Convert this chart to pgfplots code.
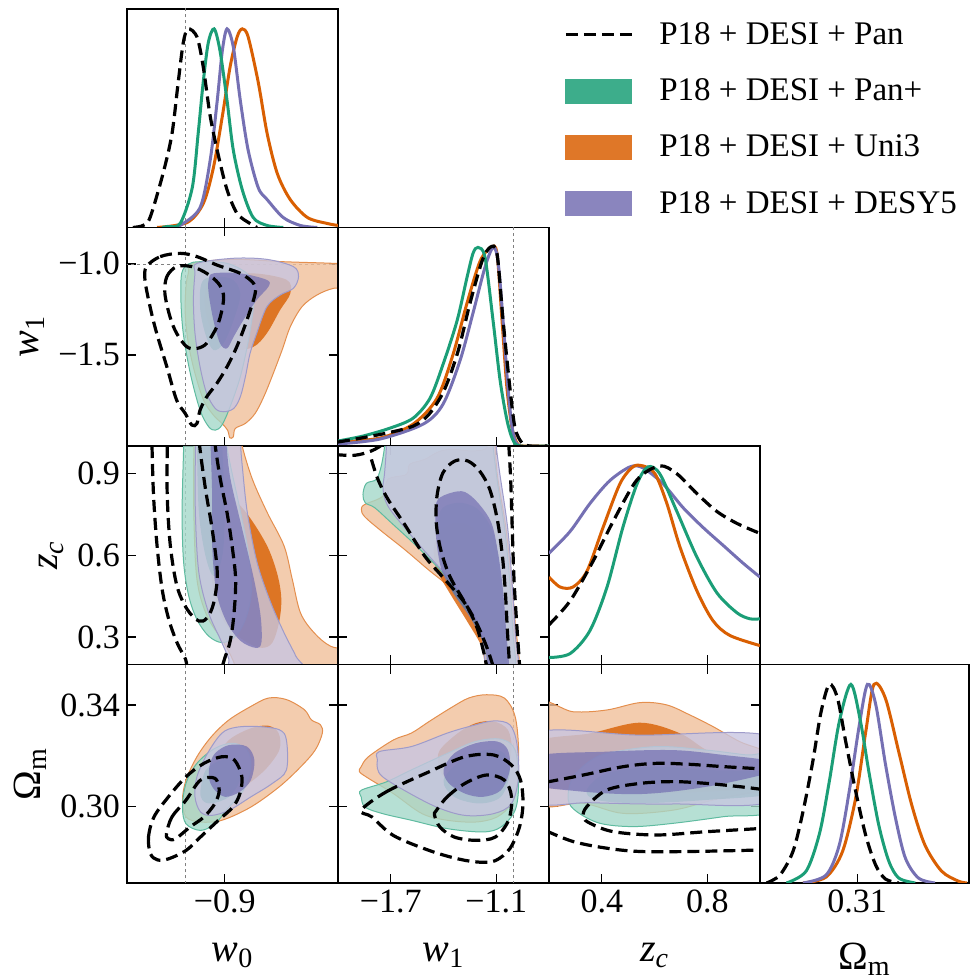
\documentclass[border=0pt]{standalone}
\usepackage{pgfplots}
\pgfplotsset{compat=1.18}
\usepackage{fontspec}
\setmainfont{Liberation Serif}
\definecolor{cg}{HTML}{1B9E77}
\definecolor{co}{HTML}{D95F02}
\definecolor{cp}{HTML}{7570B3}
\pgfplotsset{
  tri/.style={scale only axis, width=105.5pt, height=109.25pt, anchor=south west,
    axis line style={line width=0.9pt}, every tick/.style={black, line width=0.7pt},
    major tick length=4.5pt, tick align=inside, xtick pos=both, ytick pos=both,
    ticklabel style={font=\fontsize{17}{17}\selectfont},
    label style={font=\fontsize{20}{20}\selectfont},
    xlabel style={yshift=-8pt},
    xticklabels={}, yticklabels={}, clip=true},
  diag/.style={tri, ytick=\empty, xtick pos=bottom, ymin=0, ymax=1.1},
  oO/.style={fill=co!40!white, draw=co!70!white, fill opacity=0.8, line width=0.5pt, smooth cycle, tension=0.55},
  oI/.style={fill=co, draw=none, fill opacity=0.8, smooth cycle, tension=0.55},
  gO/.style={fill=cg!40!white, draw=cg!70!white, fill opacity=0.8, line width=0.5pt, smooth cycle, tension=0.55},
  gI/.style={fill=cg, draw=none, fill opacity=0.7, smooth cycle, tension=0.55},
  pO/.style={fill=cp!40!white, draw=cp!70!white, fill opacity=0.8, line width=0.5pt, smooth cycle, tension=0.55},
  pI/.style={fill=cp, draw=none, fill opacity=0.72, smooth cycle, tension=0.55},
  bk/.style={black, line width=1.6pt, dash pattern=on 6pt off 3pt, smooth, tension=0.55},
  bkc/.style={black, line width=1.6pt, dash pattern=on 6pt off 3pt, smooth cycle, tension=0.55},
  lg/.style={cg, line width=1.5pt, smooth, tension=0.5},
  lo/.style={co, line width=1.5pt, smooth, tension=0.5},
  lp/.style={cp, line width=1.5pt, smooth, tension=0.5},
  lb/.style={black, line width=1.6pt, dash pattern=on 6pt off 3pt, smooth, tension=0.5},
  rl/.style={gray, line width=0.35pt, dash pattern=on 1.5pt off 1.5pt},
}
\begin{document}
\begin{tikzpicture}
\path[use as bounding box] (0,0) rectangle (484.5pt,489.5pt);

% ---------- (1,1) w0 1D ----------
\begin{axis}[diag, at={(63.5pt,375.75pt)}, xmin=-1.15, xmax=-0.61, xtick={-0.9},
  legend style={at={(2.07,0.96)}, anchor=north west, draw=none, fill=none,
    font=\fontsize{16.5}{18}\selectfont, row sep=11.7pt, inner sep=0pt,
    /tikz/every odd column/.append style={column sep=11pt}},
  legend cell align=left]
\addlegendimage{legend image code/.code={\draw[black,line width=1.6pt,dash pattern=on 6pt off 3pt] (0pt,0pt) -- (33pt,0pt);}}
\addlegendentry{P18 + DESI + Pan}
\addlegendimage{legend image code/.code={\fill[cg!85!white] (0pt,-6pt) rectangle (33pt,6pt);}}
\addlegendentry{P18 + DESI + Pan+}
\addlegendimage{legend image code/.code={\fill[co!85!white] (0pt,-6pt) rectangle (33pt,6pt);}}
\addlegendentry{P18 + DESI + Uni3}
\addlegendimage{legend image code/.code={\fill[cp!85!white] (0pt,-6pt) rectangle (33pt,6pt);}}
\addlegendentry{P18 + DESI + DESY5}
\addplot[rl] coordinates {(-1,0) (-1,1.2)};
\addplot[lo] coordinates {(-1.073,0) (-0.996,0.025) (-0.955,0.12) (-0.929,0.3) (-0.906,0.56) (-0.886,0.81) (-0.868,0.96) (-0.855,1.0) (-0.840,0.96) (-0.814,0.73) (-0.791,0.47) (-0.765,0.27) (-0.732,0.14) (-0.688,0.05) (-0.637,0.02) (-0.609,0.01)};
\addplot[lp] coordinates {(-1.03,0) (-1.014,0.01) (-0.963,0.1) (-0.937,0.34) (-0.919,0.64) (-0.906,0.89) (-0.894,1.0) (-0.878,0.91) (-0.860,0.64) (-0.840,0.39) (-0.814,0.2) (-0.791,0.14) (-0.750,0.05) (-0.706,0.01) (-0.663,0)};
\addplot[lg] coordinates {(-1.06,0) (-1.047,0.005) (-1.014,0.02) (-0.983,0.2) (-0.968,0.47) (-0.955,0.73) (-0.942,0.93) (-0.927,1.0) (-0.912,0.89) (-0.894,0.64) (-0.878,0.39) (-0.855,0.19) (-0.827,0.05) (-0.791,0.01) (-0.75,0)};
\addplot[lb] coordinates {(-1.135,0) (-1.109,0.01) (-1.091,0.05) (-1.058,0.27) (-1.035,0.47) (-1.019,0.73) (-1.006,0.93) (-0.994,1.0) (-0.971,0.96) (-0.955,0.81) (-0.937,0.56) (-0.917,0.37) (-0.894,0.19) (-0.868,0.07) (-0.835,0.02) (-0.817,0)};
\end{axis}

% ---------- (2,1) w0-w1 ----------
\begin{axis}[tri, at={(63.5pt,266.5pt)}, xmin=-1.15, xmax=-0.61, ymin=-2.0, ymax=-0.8,
  xtick={-0.9}, ytick={-1.5,-1.0}, yticklabels={−1.5,−1.0}, ylabel={\textit{w}\textsubscript{1}}]
\addplot[rl] coordinates {(-1,-2.1) (-1,-0.7)};
\addplot[rl] coordinates {(-1.2,-1) (-0.5,-1)};
\addplot[oO] coordinates {(-0.980,-0.997) (-0.877,-0.975) (-0.749,-0.988) (-0.621,-0.997) (-0.570,-1.006) (-0.570,-1.125) (-0.621,-1.134) (-0.664,-1.171) (-0.702,-1.235) (-0.732,-1.345) (-0.753,-1.473) (-0.779,-1.620) (-0.800,-1.730) (-0.822,-1.821) (-0.847,-1.876) (-0.873,-1.904) (-0.878,-1.950) (-0.887,-1.955) (-0.892,-1.915) (-0.907,-1.876) (-0.929,-1.830) (-0.954,-1.748) (-0.976,-1.601) (-0.993,-1.436) (-1.001,-1.271) (-0.999,-1.125) (-0.993,-1.052)};
\addplot[oI] coordinates {(-0.929,-1.070) (-0.826,-1.052) (-0.741,-1.088) (-0.732,-1.162) (-0.758,-1.253) (-0.792,-1.381) (-0.826,-1.455) (-0.877,-1.473) (-0.920,-1.418) (-0.946,-1.290) (-0.950,-1.162)};
\addplot[gO] coordinates {(-0.963,-0.988) (-0.894,-0.997) (-0.843,-1.052) (-0.822,-1.125) (-0.826,-1.235) (-0.839,-1.418) (-0.860,-1.620) (-0.886,-1.784) (-0.907,-1.885) (-0.924,-1.913) (-0.941,-1.894) (-0.963,-1.803) (-0.988,-1.601) (-1.006,-1.381) (-1.012,-1.198) (-1.010,-1.052) (-0.993,-1.001)};
\addplot[gI] coordinates {(-0.954,-1.088) (-0.886,-1.079) (-0.860,-1.162) (-0.877,-1.308) (-0.903,-1.436) (-0.929,-1.473) (-0.950,-1.381) (-0.963,-1.235)};
\addplot[pO] coordinates {(-0.971,-0.997) (-0.877,-0.969) (-0.792,-0.975) (-0.724,-1.015) (-0.711,-1.070) (-0.724,-1.134) (-0.758,-1.171) (-0.792,-1.235) (-0.818,-1.381) (-0.835,-1.491) (-0.847,-1.620) (-0.860,-1.730) (-0.877,-1.794) (-0.903,-1.812) (-0.924,-1.794) (-0.946,-1.711) (-0.963,-1.565) (-0.976,-1.381) (-0.980,-1.198) (-0.976,-1.052)};
\addplot[pI] coordinates {(-0.929,-1.052) (-0.860,-1.052) (-0.792,-1.088) (-0.788,-1.125) (-0.818,-1.198) (-0.852,-1.308) (-0.877,-1.400) (-0.894,-1.464) (-0.912,-1.436) (-0.929,-1.308) (-0.941,-1.162) (-0.941,-1.088)};
\addplot[bkc] coordinates {(-1.100,-1.015) (-1.065,-0.960) (-1.014,-0.942) (-0.971,-0.960) (-0.920,-1.006) (-0.860,-1.052) (-0.826,-1.107) (-0.822,-1.162) (-0.843,-1.308) (-0.869,-1.455) (-0.894,-1.565) (-0.920,-1.656) (-0.946,-1.730) (-0.963,-1.803) (-0.971,-1.876) (-0.984,-1.885) (-1.001,-1.821) (-1.023,-1.748) (-1.048,-1.565) (-1.074,-1.381) (-1.091,-1.235) (-1.104,-1.088)};
\addplot[bkc] coordinates {(-1.053,-1.162) (-1.048,-1.070) (-1.023,-1.015) (-0.984,-1.015) (-0.946,-1.052) (-0.916,-1.107) (-0.903,-1.171) (-0.907,-1.253) (-0.920,-1.345) (-0.946,-1.436) (-0.971,-1.464) (-0.997,-1.455) (-1.023,-1.381) (-1.040,-1.290)};
\end{axis}

% ---------- (2,2) w1 1D ----------
\begin{axis}[diag, at={(169pt,266.5pt)}, xmin=-2.0, xmax=-0.8, xtick={-1.7,-1.1}]
\addplot[rl] coordinates {(-1,0) (-1,1.2)};
\addplot[lo] coordinates {(-2.0,0.02) (-1.761,0.04) (-1.573,0.11) (-1.437,0.24) (-1.346,0.46) (-1.266,0.72) (-1.192,0.93) (-1.130,1.0) (-1.096,0.97) (-1.067,0.63) (-1.039,0.29) (-1.010,0.09) (-0.982,0.015) (-0.948,0) (-0.8,0)};
\addplot[lp] coordinates {(-2.0,0.01) (-1.761,0.035) (-1.516,0.11) (-1.403,0.21) (-1.306,0.43) (-1.232,0.67) (-1.164,0.9) (-1.118,1.0) (-1.090,0.93) (-1.061,0.63) (-1.033,0.29) (-1.005,0.07) (-0.965,0) (-0.8,0)};
\addplot[lg] coordinates {(-2.0,0.025) (-1.858,0.05) (-1.704,0.09) (-1.573,0.14) (-1.477,0.24) (-1.403,0.41) (-1.323,0.63) (-1.266,0.85) (-1.232,0.97) (-1.204,1.0) (-1.164,0.95) (-1.118,0.63) (-1.078,0.33) (-1.039,0.13) (-1.005,0.03) (-0.965,0) (-0.8,0)};
\addplot[lb] coordinates {(-2.0,0.02) (-1.573,0.1) (-1.420,0.24) (-1.323,0.46) (-1.249,0.72) (-1.181,0.93) (-1.135,1.0) (-1.096,0.97) (-1.061,0.63) (-1.022,0.29) (-0.993,0.09) (-0.953,0.015) (-0.908,0) (-0.811,0)};
\end{axis}

% ---------- (3,1) w0-zc ----------
\begin{axis}[tri, at={(63.5pt,157.25pt)}, xmin=-1.15, xmax=-0.61, ymin=0.2, ymax=1.0,
  xtick={-0.9}, ytick={0.3,0.6,0.9}, yticklabels={0.3,0.6,0.9}, ylabel={\textit{z}\textsubscript{\textit{c}}}]
\addplot[rl] coordinates {(-1,0.1) (-1,1.1)};
\addplot[oO] coordinates {(-0.979,1.049) (-0.979,1.0) (-0.979,0.756) (-0.971,0.512) (-0.945,0.377) (-0.902,0.280) (-0.876,0.206) (-0.868,0.158) (-0.569,0.158) (-0.569,0.243) (-0.629,0.267) (-0.671,0.316) (-0.706,0.389) (-0.727,0.512) (-0.748,0.634) (-0.791,0.756) (-0.829,0.878) (-0.855,1.0) (-0.855,1.049)};
\addplot[oI] coordinates {(-0.902,0.829) (-0.859,0.780) (-0.821,0.707) (-0.787,0.621) (-0.764,0.524) (-0.755,0.438) (-0.761,0.353) (-0.778,0.280) (-0.804,0.261) (-0.842,0.280) (-0.894,0.341) (-0.924,0.438) (-0.936,0.560) (-0.935,0.695) (-0.924,0.792)};
\addplot[gO] coordinates {(-1.005,1.049) (-1.005,1.0) (-1.009,0.756) (-1.005,0.573) (-0.992,0.451) (-0.971,0.365) (-0.941,0.304) (-0.906,0.280) (-0.872,0.304) (-0.847,0.365) (-0.832,0.463) (-0.838,0.597) (-0.859,0.756) (-0.885,0.927) (-0.894,1.0) (-0.894,1.049)};
\addplot[gI] coordinates {(-0.971,1.049) (-0.971,1.0) (-0.966,0.756) (-0.949,0.597) (-0.928,0.524) (-0.906,0.597) (-0.900,0.756) (-0.906,1.0) (-0.906,1.049)};
\addplot[pO] coordinates {(-0.975,1.049) (-0.975,1.0) (-0.975,0.756) (-0.966,0.536) (-0.941,0.389) (-0.911,0.292) (-0.889,0.219) (-0.881,0.170) (-0.701,0.170) (-0.718,0.231) (-0.748,0.316) (-0.782,0.426) (-0.817,0.573) (-0.842,0.756) (-0.855,0.927) (-0.859,1.0) (-0.859,1.049)};
\addplot[pI] coordinates {(-0.936,1.049) (-0.936,1.0) (-0.932,0.817) (-0.932,0.634) (-0.921,0.463) (-0.894,0.353) (-0.859,0.286) (-0.821,0.261) (-0.806,0.280) (-0.808,0.377) (-0.825,0.512) (-0.855,0.695) (-0.885,0.878) (-0.895,1.0) (-0.895,1.049)};
\addplot[bkc] coordinates {(-1.086,1.049) (-1.086,1.0) (-1.082,0.817) (-1.073,0.634) (-1.060,0.475) (-1.043,0.365) (-1.022,0.280) (-1.000,0.219) (-0.988,0.170) (-0.919,0.170) (-0.898,0.231) (-0.885,0.292) (-0.876,0.389) (-0.872,0.512) (-0.881,0.634) (-0.894,0.756) (-0.911,0.878) (-0.924,1.0) (-0.924,1.049)};
\addplot[bkc] coordinates {(-1.047,1.049) (-1.047,1.0) (-1.047,0.817) (-1.039,0.634) (-1.022,0.487) (-0.996,0.402) (-0.966,0.359) (-0.945,0.371) (-0.928,0.426) (-0.919,0.536) (-0.932,0.695) (-0.949,0.841) (-0.964,1.0) (-0.964,1.049)};
\end{axis}

% ---------- (3,2) w1-zc ----------
\begin{axis}[tri, at={(169pt,157.25pt)}, xmin=-2.0, xmax=-0.8, ymin=0.2, ymax=1.0,
  xtick={-1.7,-1.1}, ytick={0.3,0.6,0.9}]
\addplot[rl] coordinates {(-1,0.1) (-1,1.1)};
\addplot[oO] coordinates {(-1.716,0.878) (-1.611,0.896) (-1.592,0.933) (-1.507,0.951) (-1.431,0.978) (-1.355,0.988) (-1.242,0.982) (-1.166,0.988) (-1.130,1.012) (-1.110,1.049) (-1.095,0.90) (-1.045,0.70) (-1.012,0.50) (-0.992,0.35) (-0.976,0.170) (-1.132,0.170) (-1.147,0.243) (-1.185,0.316) (-1.261,0.402) (-1.374,0.487) (-1.488,0.548) (-1.621,0.621) (-1.754,0.689) (-1.848,0.741) (-1.867,0.768) (-1.848,0.786) (-1.744,0.817)};
\addplot[oI] coordinates {(-1.450,0.646) (-1.393,0.701) (-1.308,0.719) (-1.223,0.695) (-1.147,0.634) (-1.090,0.536) (-1.062,0.414) (-1.043,0.292) (-1.033,0.170) (-1.147,0.170) (-1.185,0.267) (-1.261,0.353) (-1.355,0.451) (-1.431,0.536) (-1.454,0.597)};
\addplot[gO] coordinates {(-1.735,1.049) (-1.735,1.0) (-1.754,0.927) (-1.782,0.878) (-1.839,0.863) (-1.858,0.823) (-1.845,0.792) (-1.791,0.774) (-1.697,0.719) (-1.564,0.640) (-1.431,0.554) (-1.299,0.451) (-1.194,0.341) (-1.137,0.243) (-1.113,0.170) (-0.995,0.170) (-1.005,0.316) (-1.024,0.512) (-1.052,0.695) (-1.090,0.853) (-1.118,1.0) (-1.118,1.049)};
\addplot[gI] coordinates {(-1.422,0.756) (-1.318,0.792) (-1.204,0.768) (-1.118,0.683) (-1.075,0.536) (-1.052,0.365) (-1.043,0.170) (-1.137,0.170) (-1.175,0.280) (-1.251,0.377) (-1.355,0.475) (-1.422,0.597)};
\addplot[pO] coordinates {(-1.735,1.049) (-1.725,1.0) (-1.735,0.902) (-1.744,0.841) (-1.716,0.780) (-1.621,0.701) (-1.507,0.615) (-1.374,0.518) (-1.261,0.420) (-1.185,0.316) (-1.143,0.170) (-0.980,0.170) (-0.990,0.30) (-1.010,0.50) (-1.035,0.70) (-1.080,0.90) (-1.100,1.0) (-1.100,1.049)};
\addplot[pI] coordinates {(-1.431,0.805) (-1.355,0.829) (-1.280,0.832) (-1.204,0.792) (-1.128,0.719) (-1.090,0.609) (-1.062,0.475) (-1.043,0.316) (-1.033,0.170) (-1.137,0.170) (-1.166,0.267) (-1.242,0.365) (-1.346,0.463) (-1.412,0.548) (-1.441,0.658) (-1.446,0.756)};
\addplot[bk] coordinates {(-2.02,0.969) (-1.905,0.966) (-1.810,0.982) (-1.744,1.006)};
\addplot[bk] coordinates {(-1.810,0.951) (-1.773,0.878) (-1.716,0.805) (-1.621,0.713) (-1.507,0.597) (-1.393,0.512) (-1.280,0.426) (-1.213,0.341) (-1.175,0.255) (-1.151,0.182)};
\addplot[bk] coordinates {(-1.029,1.006) (-1.018,0.878) (-1.009,0.695) (-0.999,0.512) (-0.984,0.353) (-0.967,0.194)};
\addplot[bk] coordinates {(-1.118,0.194) (-1.156,0.267) (-1.213,0.353) (-1.289,0.438) (-1.365,0.524) (-1.416,0.621) (-1.441,0.719) (-1.437,0.817) (-1.403,0.902) (-1.336,0.945) (-1.261,0.945) (-1.194,0.908) (-1.137,0.841) (-1.094,0.731) (-1.065,0.597) (-1.048,0.463) (-1.037,0.328) (-1.024,0.194)};
\end{axis}

% ---------- (3,3) zc 1D ----------
\begin{axis}[diag, at={(274.5pt,157.25pt)}, xmin=0.2, xmax=1.0, xtick={0.4,0.8}]
\addplot[lp] coordinates {(0.2,0.56) (0.28,0.67) (0.355,0.81) (0.43,0.925) (0.507,0.995) (0.556,0.99) (0.632,0.91) (0.708,0.79) (0.784,0.69) (0.86,0.60) (0.936,0.51) (1.0,0.44)};
\addplot[lo] coordinates {(0.2,0.44) (0.242,0.39) (0.291,0.39) (0.344,0.47) (0.405,0.69) (0.469,0.91) (0.518,0.995) (0.556,1.0) (0.602,0.96) (0.647,0.81) (0.697,0.59) (0.761,0.37) (0.822,0.22) (0.886,0.146) (1.0,0.095)};
\addplot[lg] coordinates {(0.2,0.035) (0.28,0.055) (0.355,0.17) (0.42,0.39) (0.48,0.69) (0.534,0.91) (0.575,0.995) (0.62,0.96) (0.685,0.77) (0.761,0.54) (0.837,0.36) (0.913,0.26) (0.962,0.23) (1.0,0.23)};
\addplot[lb] coordinates {(0.2,0.2) (0.28,0.32) (0.367,0.52) (0.443,0.72) (0.534,0.93) (0.62,1.0) (0.685,0.96) (0.761,0.86) (0.837,0.77) (0.913,0.71) (1.0,0.66)};
\end{axis}

% ---------- (4,1) w0-Om ----------
\begin{axis}[tri, at={(63.5pt,48pt)}, xmin=-1.15, xmax=-0.61, ymin=0.270, ymax=0.356,
  xtick={-0.9}, xticklabels={−0.9}, ytick={0.30,0.34}, yticklabels={0.30,0.34},
  xlabel={\textit{w}\textsubscript{0}}, ylabel={Ω\textsubscript{m}}]
\addplot[rl] coordinates {(-1,0.26) (-1,0.36)};
\addplot[oO] coordinates {(-0.999,0.2960) (-0.962,0.2940) (-0.907,0.2947) (-0.833,0.2999) (-0.760,0.3079) (-0.705,0.3158) (-0.668,0.3224) (-0.650,0.3290) (-0.655,0.3323) (-0.678,0.3342) (-0.696,0.3382) (-0.742,0.3422) (-0.788,0.3428) (-0.833,0.3395) (-0.889,0.3342) (-0.934,0.3276) (-0.971,0.3197) (-0.999,0.3105) (-1.008,0.3026)};
\addplot[oI] coordinates {(-0.925,0.3184) (-0.889,0.3263) (-0.833,0.3309) (-0.788,0.3319) (-0.762,0.3290) (-0.760,0.3224) (-0.797,0.3145) (-0.852,0.3079) (-0.907,0.3052) (-0.934,0.3092) (-0.934,0.3145)};
\addplot[gO] coordinates {(-1.008,0.2999) (-0.999,0.3092) (-0.971,0.3171) (-0.925,0.3230) (-0.879,0.3250) (-0.843,0.3224) (-0.833,0.3158) (-0.852,0.3065) (-0.889,0.2999) (-0.925,0.2933) (-0.962,0.2907) (-0.999,0.2933)};
\addplot[gI] coordinates {(-0.962,0.3065) (-0.948,0.3145) (-0.907,0.3184) (-0.866,0.3171) (-0.861,0.3105) (-0.889,0.3039) (-0.934,0.3013) (-0.957,0.3026)};
\addplot[pO] coordinates {(-0.976,0.3039) (-0.971,0.3118) (-0.944,0.3210) (-0.907,0.3290) (-0.870,0.3313) (-0.815,0.3316) (-0.760,0.3303) (-0.742,0.3263) (-0.742,0.3145) (-0.778,0.3092) (-0.833,0.3039) (-0.889,0.2986) (-0.934,0.2966) (-0.962,0.2980)};
\addplot[pI] coordinates {(-0.939,0.3158) (-0.925,0.3210) (-0.889,0.3243) (-0.843,0.3237) (-0.824,0.3184) (-0.833,0.3105) (-0.861,0.3059) (-0.898,0.3039) (-0.925,0.3065) (-0.939,0.3105)};
\addplot[bkc] coordinates {(-1.090,0.2815) (-1.095,0.2881) (-1.081,0.2960) (-1.044,0.3039) (-0.999,0.3118) (-0.953,0.3171) (-0.907,0.3197) (-0.875,0.3184) (-0.856,0.3118) (-0.861,0.3052) (-0.879,0.2999) (-0.916,0.2947) (-0.962,0.2881) (-0.999,0.2828) (-1.044,0.2795) (-1.072,0.2791)};
\addplot[bkc] coordinates {(-1.049,0.2894) (-1.035,0.2960) (-0.999,0.3026) (-0.962,0.3105) (-0.925,0.3112) (-0.914,0.3065) (-0.925,0.3013) (-0.953,0.2960) (-0.989,0.2920) (-1.026,0.2874) (-1.044,0.2874)};
\end{axis}

% ---------- (4,2) w1-Om ----------
\begin{axis}[tri, at={(169pt,48pt)}, xmin=-2.0, xmax=-0.8, ymin=0.270, ymax=0.356,
  xtick={-1.7,-1.1}, xticklabels={−1.7,−1.1}, ytick={0.30,0.34},
  xlabel={\textit{w}\textsubscript{1}}]
\addplot[rl] coordinates {(-1,0.26) (-1,0.36)};
\addplot[oO] coordinates {(-1.868,0.3158) (-1.827,0.3197) (-1.685,0.3263) (-1.583,0.3290) (-1.481,0.3336) (-1.359,0.3389) (-1.257,0.3428) (-1.156,0.3441) (-1.054,0.3428) (-0.993,0.3356) (-0.973,0.3224) (-0.983,0.3092) (-1.013,0.3013) (-1.095,0.2960) (-1.217,0.2940) (-1.379,0.2947) (-1.522,0.2973) (-1.685,0.3052) (-1.827,0.3112) (-1.878,0.3138)};
\addplot[oI] coordinates {(-1.420,0.3224) (-1.318,0.3290) (-1.217,0.3329) (-1.115,0.3336) (-1.034,0.3303) (-1.013,0.3224) (-1.054,0.3118) (-1.156,0.3065) (-1.298,0.3065) (-1.400,0.3118) (-1.430,0.3171)};
\addplot[gO] coordinates {(-1.868,0.3065) (-1.725,0.3098) (-1.583,0.3145) (-1.379,0.3210) (-1.217,0.3257) (-1.074,0.3266) (-0.993,0.3224) (-0.973,0.3092) (-0.993,0.2986) (-1.074,0.2920) (-1.176,0.2901) (-1.379,0.2914) (-1.583,0.2947) (-1.746,0.2973) (-1.847,0.2999) (-1.868,0.3039)};
\addplot[gI] coordinates {(-1.400,0.3105) (-1.298,0.3184) (-1.156,0.3224) (-1.054,0.3210) (-1.023,0.3131) (-1.074,0.3039) (-1.196,0.3013) (-1.339,0.3039)};
\addplot[pO] coordinates {(-1.776,0.3184) (-1.766,0.3217) (-1.583,0.3237) (-1.379,0.3290) (-1.237,0.3319) (-1.115,0.3338) (-1.023,0.3323) (-0.983,0.3250) (-0.973,0.3118) (-1.013,0.3013) (-1.115,0.2973) (-1.278,0.2966) (-1.440,0.2999) (-1.624,0.3065) (-1.746,0.3118) (-1.776,0.3151)};
\addplot[pI] coordinates {(-1.400,0.3145) (-1.339,0.3210) (-1.217,0.3250) (-1.095,0.3257) (-1.034,0.3224) (-1.023,0.3145) (-1.074,0.3065) (-1.176,0.3039) (-1.278,0.3052) (-1.369,0.3092)};
\addplot[bkc] coordinates {(-1.868,0.2986) (-1.725,0.3059) (-1.481,0.3138) (-1.278,0.3197) (-1.115,0.3204) (-1.013,0.3164) (-0.962,0.3105) (-0.948,0.3013) (-0.968,0.2920) (-1.023,0.2835) (-1.105,0.2788) (-1.196,0.2782) (-1.318,0.2795) (-1.481,0.2828) (-1.685,0.2887) (-1.807,0.2960)};
\addplot[bkc] coordinates {(-1.440,0.2986) (-1.379,0.3039) (-1.278,0.3092) (-1.156,0.3125) (-1.054,0.3105) (-1.013,0.3039) (-1.030,0.2947) (-1.105,0.2881) (-1.217,0.2868) (-1.339,0.2881) (-1.420,0.2920) (-1.451,0.2967)};
\end{axis}

% ---------- (4,3) zc-Om ----------
\begin{axis}[tri, at={(274.5pt,48pt)}, xmin=0.2, xmax=1.0, ymin=0.270, ymax=0.356,
  xtick={0.4,0.8}, xticklabels={0.4,0.8}, ytick={0.30,0.34},
  xlabel={\textit{z}\textsubscript{\textit{c}}}]
\addplot[oO] coordinates {(0.141,0.3401) (0.292,0.3374) (0.419,0.3381) (0.545,0.3410) (0.646,0.3401) (0.735,0.3361) (0.823,0.3315) (0.924,0.3256) (1.051,0.3197) (1.051,0.3073) (0.950,0.3053) (0.823,0.3027) (0.672,0.2987) (0.482,0.2974) (0.330,0.3014) (0.141,0.3027)};
\addplot[oI] coordinates {(0.141,0.3250) (0.356,0.3289) (0.545,0.3331) (0.697,0.3289) (0.798,0.3223) (0.924,0.3171) (1.051,0.3145) (1.051,0.3079) (0.798,0.3060) (0.545,0.3053) (0.292,0.3066) (0.141,0.3093)};
\addplot[gO] coordinates {(0.273,0.3027) (0.286,0.3106) (0.343,0.3171) (0.419,0.3210) (0.608,0.3237) (0.798,0.3223) (0.950,0.3204) (1.051,0.3197) (1.051,0.2990) (0.861,0.2961) (0.672,0.2935) (0.520,0.2922) (0.393,0.2935) (0.305,0.2981)};
\addplot[gI] coordinates {(0.343,0.3066) (0.419,0.3132) (0.608,0.3158) (0.798,0.3145) (1.051,0.3132) (1.051,0.3053) (0.798,0.3027) (0.545,0.3014) (0.381,0.3027)};
\addplot[pO] coordinates {(0.141,0.3286) (0.545,0.3282) (1.051,0.3273) (1.051,0.3027) (0.672,0.3011) (0.356,0.3016) (0.141,0.3027)};
\addplot[pI] coordinates {(0.141,0.3197) (0.419,0.3217) (0.672,0.3223) (0.861,0.3204) (1.051,0.3178) (1.051,0.3139) (0.798,0.3079) (0.545,0.3050) (0.292,0.3063) (0.141,0.3093)};
\addplot[bk] coordinates {(0.19,0.3097) (0.330,0.3125) (0.482,0.3158) (0.608,0.3171) (0.735,0.3167) (0.861,0.3158) (1.01,0.3149)};
\addplot[bk] coordinates {(0.19,0.2905) (0.292,0.2863) (0.419,0.2837) (0.545,0.2824) (0.735,0.2824) (1.01,0.2830)};
\addplot[bk] coordinates {(1.01,0.3068) (0.924,0.3079) (0.798,0.3092) (0.672,0.3099) (0.545,0.3092) (0.419,0.3066) (0.343,0.3000) (0.330,0.2960) (0.356,0.2935) (0.444,0.2902) (0.608,0.2889) (0.798,0.2902) (1.01,0.2915)};
\end{axis}

% ---------- (4,4) Om 1D ----------
\begin{axis}[diag, at={(380pt,48pt)}, width=104.5pt, xmin=0.270, xmax=0.356, xtick={0.31}, xticklabels={0.31},
  xlabel={Ω\textsubscript{m}}]
\addplot[lo] coordinates {(0.2877,0) (0.2972,0.03) (0.304,0.16) (0.3094,0.43) (0.3135,0.76) (0.3169,1.0) (0.3216,0.93) (0.3271,0.66) (0.3325,0.39) (0.3379,0.19) (0.3447,0.06) (0.3515,0.01) (0.3552,0)};
\addplot[lp] coordinates {(0.2877,0) (0.2972,0.04) (0.3026,0.19) (0.3067,0.46) (0.3108,0.79) (0.3142,1.0) (0.3176,0.9) (0.3216,0.6) (0.3257,0.33) (0.3298,0.126) (0.3352,0.025) (0.342,0)};
\addplot[lg] coordinates {(0.2809,0) (0.289,0.06) (0.2945,0.25) (0.2985,0.51) (0.3026,0.81) (0.3074,1.0) (0.3114,0.81) (0.3148,0.56) (0.3189,0.29) (0.323,0.11) (0.3271,0.025) (0.3339,0)};
\addplot[lb] coordinates {(0.2727,0) (0.2782,0.04) (0.2836,0.16) (0.2877,0.36) (0.2917,0.61) (0.2951,0.86) (0.2985,1.0) (0.3019,0.93) (0.3053,0.71) (0.3094,0.46) (0.3135,0.24) (0.3176,0.09) (0.3216,0.02) (0.3271,0)};
\end{axis}
\end{tikzpicture}
\end{document}
